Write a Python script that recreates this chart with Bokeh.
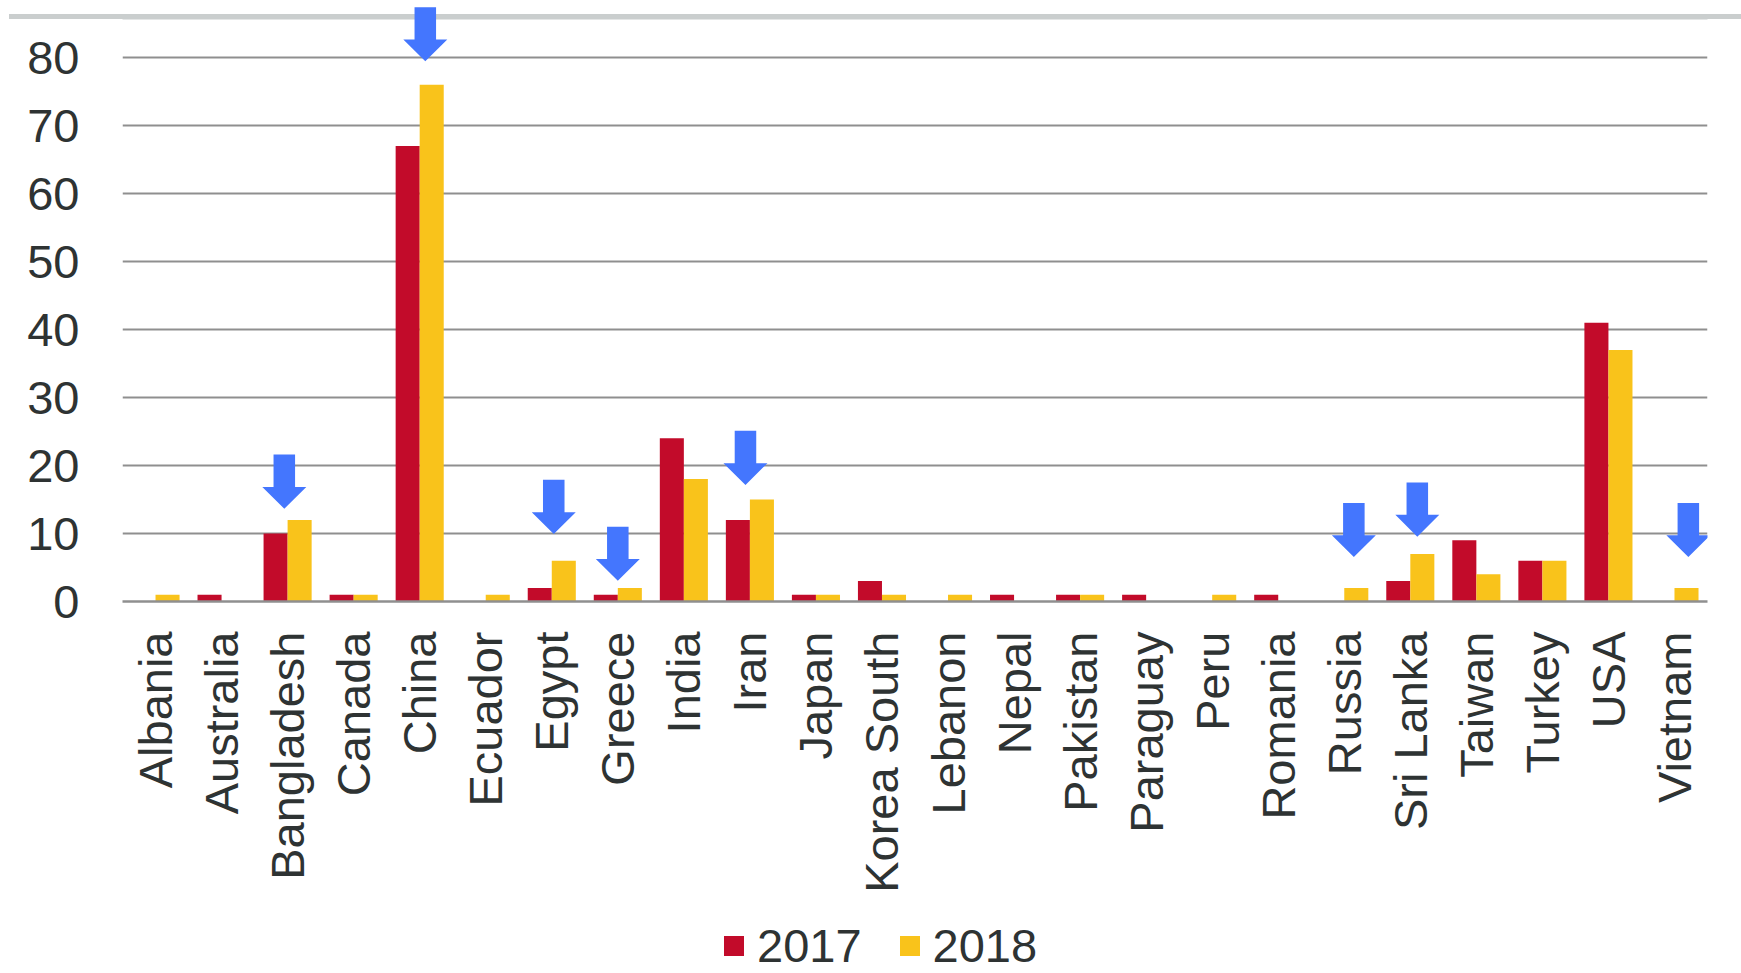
import math
from bokeh.plotting import figure
from bokeh.layouts import column
from bokeh.models import (ColumnDataSource, FixedTicker, Legend, LegendItem,
                          BoxAnnotation, Range1d)
from bokeh.transform import dodge
from bokeh.embed import file_html
from bokeh.resources import INLINE

# ---------------- data ----------------
countries = ["Albania", "Australia", "Bangladesh", "Canada", "China", "Ecuador",
             "Egypt", "Greece", "India", "Iran", "Japan", "Korea South",
             "Lebanon", "Nepal", "Pakistan", "Paraguay", "Peru", "Romania",
             "Russia", "Sri Lanka", "Taiwan", "Turkey", "USA", "Vietnam"]
y2017 = [0, 1, 10, 1, 67, 0, 2, 1, 24, 12, 1, 3, 0, 1, 1, 1, 0, 1, 0, 3, 9, 6, 41, 0]
y2018 = [1, 0, 12, 1, 76, 1, 6, 2, 18, 15, 1, 1, 1, 0, 1, 0, 1, 0, 2, 7, 4, 6, 37, 2]
series_names = ["2017", "2018"]
y_ticks = [0, 10, 20, 30, 40, 50, 60, 70, 80]

# highlighted countries (blue arrows): arrow top value and small x shift
arrow_countries = ["Bangladesh", "China", "Egypt", "Greece", "Iran",
                   "Russia", "Sri Lanka", "Vietnam"]
arrow_top = [21.6, 87.4, 17.9, 11.0, 25.1, 14.5, 17.5, 14.5]
arrow_dx = [-0.05, 0.085, 0.03, 0.0, -0.067, 0.145, 0.106, 0.21]

# ---------------- styles ----------------
FONT = "Liberation Sans"
TXT = "#2e3333"
RED = "#c20b2a"
YEL = "#f9c31b"
BLUE = "#4476fe"
GRID = "#8f8f8f"
RULE = "#cacece"
BAR_W = 0.364

centers = [i + 0.5 for i in range(len(countries))]
src = ColumnDataSource(dict(x=centers, y17=y2017, y18=y2018))

W, H1, H2 = 1741, 900, 73
FB = 601  # frame bottom (px from top)
p = figure(width=W, height=H1,
           x_range=Range1d(0, len(countries)), y_range=Range1d(0, FB / 6.8),
           output_backend="svg", toolbar_location=None,
           min_border_left=122, min_border_right=34,
           min_border_top=0, min_border_bottom=H1 - FB,
           styles={"background": "linear-gradient(to bottom, #ffffff 0px, #ffffff 14px, "
                                 + RULE + " 14px, " + RULE + " 19px, #ffffff 19px) "
                                 "9px 0 / 100% 100% no-repeat, #ffffff"})
p.outline_line_color = None
p.background_fill_alpha = 0
p.border_fill_alpha = 0

# top decorative rule (inside the frame)
p.add_layout(BoxAnnotation(left=9, right=W, top=14.2, bottom=19,
                           left_units="canvas", right_units="canvas",
                           top_units="canvas", bottom_units="canvas",
                           fill_color=RULE, fill_alpha=1.0,
                           line_color=None, level="underlay"))

r17 = p.vbar(x=dodge("x", -BAR_W / 2, range=p.x_range), top="y17", width=BAR_W,
             bottom=0, source=src, fill_color=RED, line_color=None)
r18 = p.vbar(x=dodge("x", BAR_W / 2, range=p.x_range), top="y18", width=BAR_W,
             bottom=0, source=src, fill_color=YEL, line_color=None)

# arrows
SW, HW, SL, HL = 0.163, 0.333, 4.76, 3.2
axs, ays = [], []
for name, top, dx in zip(arrow_countries, arrow_top, arrow_dx):
    c = countries.index(name) + 0.5 + dx
    axs.append([c - SW, c + SW, c + SW, c + HW, c, c - HW, c - SW])
    ays.append([top, top, top - SL, top - SL, top - SL - HL, top - SL, top - SL])
p.patches(xs=axs, ys=ays, fill_color=BLUE, line_color=None)

# grid
p.xgrid.grid_line_color = None
p.ygrid.ticker = FixedTicker(ticks=y_ticks)
p.ygrid.grid_line_color = GRID
p.ygrid.grid_line_width = 2

# y axis
ya = p.yaxis[0]
ya.ticker = FixedTicker(ticks=y_ticks)
ya.axis_line_color = None
ya.major_tick_line_color = None
ya.minor_tick_line_color = None
ya.major_label_standoff = 37
ya.major_label_text_font = FONT
ya.major_label_text_font_size = "47px"
ya.major_label_text_color = TXT

# x axis
xa = p.xaxis[0]
xa.ticker = FixedTicker(ticks=centers)
xa.major_label_overrides = {c: n for c, n in zip(centers, countries)}
xa.axis_line_color = GRID
xa.axis_line_width = 2.5
xa.major_tick_line_color = None
xa.minor_tick_line_color = None
xa.major_label_orientation = math.pi / 2
xa.major_label_standoff = 24
xa.major_label_text_font = FONT
xa.major_label_text_font_size = "47px"
xa.major_label_text_color = TXT

# ---------------- legend strip ----------------
q = figure(width=W, height=H2, x_range=Range1d(0, 1), y_range=Range1d(0, 1),
           output_backend="svg", toolbar_location=None,
           min_border_left=0, min_border_right=0,
           min_border_top=0, min_border_bottom=0)
q.axis.visible = False
q.grid.visible = False
q.outline_line_color = None
q.border_fill_color = "white"
q.background_fill_color = "white"
k17 = q.vbar(x=[0.5], top=[0], bottom=[0], width=0.0, fill_color=RED,
             line_color=None, fill_alpha=1.0)
k18 = q.vbar(x=[0.5], top=[0], bottom=[0], width=0.0, fill_color=YEL,
             line_color=None, fill_alpha=1.0)

legend = Legend(items=[LegendItem(label=series_names[0], renderers=[k17]),
                       LegendItem(label=series_names[1], renderers=[k18])],
                location=(599, 0), orientation="horizontal",
                padding=0, margin=0, spacing=35,
                glyph_width=25, glyph_height=25, label_standoff=11,
                label_text_font=FONT, label_text_font_size="47px",
                label_text_color=TXT,
                border_line_color=None, background_fill_alpha=0)
q.add_layout(legend, "center")

open("out.html", "w").write(file_html(column(p, q, spacing=0), INLINE))
